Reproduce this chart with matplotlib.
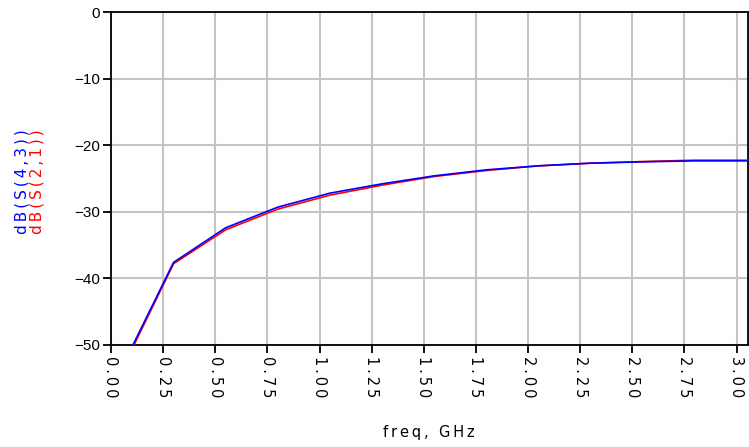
import matplotlib
matplotlib.use("Agg")
import matplotlib.pyplot as plt
import numpy as np

# Data
freq_ghz = [0.05, 0.30, 0.55, 0.80, 1.05, 1.30, 1.55, 1.80, 2.05, 2.30, 2.55, 2.80, 3.05]
db_s43 = [-53.5, -37.6, -32.4, -29.3, -27.2, -25.8, -24.6, -23.7, -23.1, -22.7, -22.5, -22.35, -22.35]
db_s21 = [-53.9, -37.8, -32.7, -29.6, -27.5, -26.0, -24.7, -23.8, -23.1, -22.7, -22.45, -22.25, -22.25]
x_ticks = [0.00, 0.25, 0.50, 0.75, 1.00, 1.25, 1.50, 1.75, 2.00, 2.25, 2.50, 2.75, 3.00]
y_ticks = [0, -10, -20, -30, -40, -50]
label_s43 = "dB(S(4,3))"
label_s21 = "dB(S(2,1))"
x_label = "freq, GHz"

def spaced(s):
    return "\u2009".join(s)

fig = plt.figure(figsize=(7.49, 4.47), dpi=100)
ax = fig.add_axes([111/749, 1-345/447, (748-111)/749, (345-12)/447])

ax.plot(freq_ghz, db_s21, color=(1, 0, 0), lw=1.2, zorder=3)
ax.plot(freq_ghz, db_s43, color=(0, 0, 1), lw=1.2, zorder=4)

ax.set_xlim(0, 3.055)
ax.set_ylim(-50, 0)
ax.set_xticks(x_ticks)
ax.set_xticklabels([spaced(f"{v:.2f}") for v in x_ticks], rotation=-90,
                   family="DejaVu Sans", fontsize=10.5, va="top", ha="center")
ax.set_yticks(y_ticks)
ax.set_yticklabels([f"{v}".replace("-", "\u2212") for v in y_ticks],
                   family="Liberation Sans", fontsize=11)

ax.grid(True, color="#c4c4c4", lw=1.5)
ax.set_axisbelow(True)
for s in ax.spines.values():
    s.set_color("black")
    s.set_linewidth(1.3)
ax.tick_params(axis="both", direction="out", length=6, width=1.3, color="black", pad=2)

fig.text(429/749, 1-432/447, spaced(x_label), ha="center", va="center",
         family="DejaVu Sans", fontsize=10.5)
fig.text(22/749, 1-182/447, spaced(label_s43), rotation=90, ha="center", va="center",
         family="DejaVu Sans", fontsize=11, color=(0, 0, 1))
fig.text(37/749, 1-182/447, spaced(label_s21), rotation=90, ha="center", va="center",
         family="DejaVu Sans", fontsize=11, color=(1, 0, 0))

fig.savefig("out.png", dpi=100)
